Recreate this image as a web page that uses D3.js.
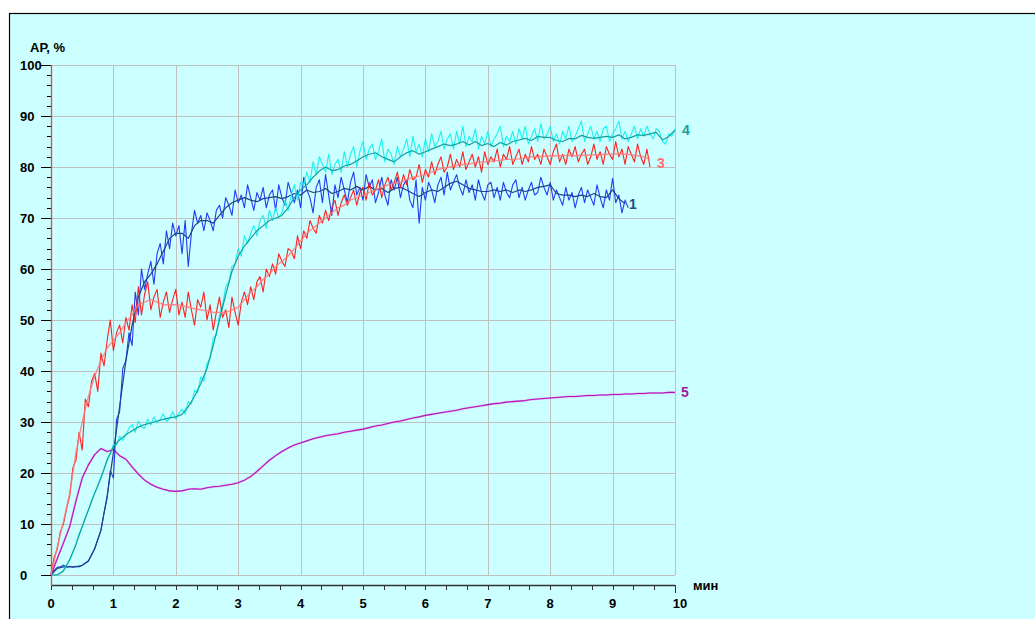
<!DOCTYPE html>
<html>
<head>
<meta charset="utf-8">
<script src="https://cdn.jsdelivr.net/npm/d3@7"></script>
<style>
  html, body { margin: 0; padding: 0; background: #ffffff; }
  svg { display: block; }
  text { font-family: "Liberation Sans", Arial, sans-serif; font-weight: bold; }
</style>
</head>
<body>
<svg id="chart" width="1035" height="619"></svg>
<script>
// Aggregation curves: АР, % versus time (min)
const xTicks = [0, 1, 2, 3, 4, 5, 6, 7, 8, 9, 10];
const yTicks = [0, 10, 20, 30, 40, 50, 60, 70, 80, 90, 100];
const xUnit = "мин";
const yTitle = "АР, %";
const seriesNames = ["1", "3", "4", "5"];

const rawStep = 0.05;     // min between raw samples
const smoothStep = 0.1;   // min between averaged samples

// Curve 1 — raw samples
const s1Raw = [
  0, 0.9, 1.5, 1.6, 1.9, 1.6, 1.7, 1.5, 1.7, 1.6, 1.9, 2.3, 2.7, 3.9, 5.1, 6.9, 8.7, 12.2, 15.1, 20.5,
  19.0, 30.5, 32.0, 40.5, 42.0, 47.5, 45.0, 55.5, 51.0, 60.0, 56.0, 59.0, 61.5, 57.0, 63.0, 65.0, 61.0, 67.5, 64.0, 69.0,
  66.5, 68.5, 63.0, 69.5, 60.5, 67.0, 71.5, 69.0, 70.5, 67.5, 71.0, 69.5, 67.5, 71.5, 72.5, 70.0, 74.0, 72.5, 70.5, 75.5,
  73.0, 74.5, 72.0, 76.5, 74.0, 71.5, 75.0, 73.5, 76.0, 72.0, 74.5, 75.5, 71.5, 76.5, 74.0, 72.5, 77.0, 75.0, 73.0, 75.5,
  72.0, 78.0, 75.5, 74.0, 71.0, 76.0, 77.5, 73.0, 78.5, 74.5, 70.5, 76.5, 74.0, 78.0, 75.5, 73.0, 77.0, 79.0, 74.5, 76.0,
  73.5, 78.5, 76.0, 77.5, 73.0, 75.0, 78.0, 74.5, 72.5, 77.5, 75.5, 78.0, 74.0, 76.5, 77.5, 73.5, 72.0, 77.5, 69.0, 76.0,
  73.5, 77.0, 75.5, 73.0, 76.5, 78.0, 74.5, 79.0, 75.5, 77.0, 78.5, 76.0, 74.5, 77.5, 75.0, 76.5, 73.5, 77.5, 75.0, 73.5,
  76.5, 77.0, 74.0, 76.0, 73.5, 77.0, 75.0, 74.0, 76.5, 77.5, 74.0, 76.0, 73.5, 75.5, 77.0, 74.5, 75.0, 78.0, 76.0, 74.5,
  77.0, 73.5, 75.5, 74.0, 72.5, 76.0, 73.5, 75.0, 72.0, 74.5, 76.0, 73.0, 75.5, 74.0, 72.5, 76.5, 74.0, 72.0, 75.5, 73.5,
  77.8, 73.0, 74.5, 71.0, 73.5, 72.0
];
// Curve 1 — averaged
const s1Smooth = [
  0, 1.3, 1.6, 1.6, 1.6, 1.9, 2.8, 5.2, 8.8, 15.5, 24, 33, 42, 49, 54.5, 57.5, 59, 61, 63.5, 66,
  67, 67, 66, 68.5, 69.5, 69.5, 69, 70.5, 72, 73, 73.5, 74, 73.5, 73.2, 73.8, 74, 74.2, 73.8, 74.2, 74.8,
  74.5, 75.5, 75, 75.2, 75.8, 74.8, 75.2, 75.8, 75.5, 76.2, 75.5, 76.2, 75.5, 75.8, 75, 75.8, 76, 75.5, 74.8, 74.2,
  75, 75.5, 75.2, 76, 76.8, 77.2, 76.5, 75.8, 75.5, 75.2, 75.2, 75.5, 75.2, 75.5, 75, 75.5, 75.2, 75.5, 76, 76.2,
  76.5, 74.8, 74.5, 74.5, 74.2, 74.5, 74.2, 74.8, 74.2, 74, 75.5, 73.8, 72.8
];

// Curve 3 — raw samples
const s3Raw = [
  0, 3.5, 5.0, 8.5, 10.0, 13.0, 15.5, 21.0, 22.5, 28.0, 24.5, 34.5, 33.0, 38.0, 39.5, 36.0, 43.5, 41.0, 46.0, 50.0,
  44.0, 47.5, 49.0, 45.5, 50.5, 48.0, 53.0, 49.5, 56.5, 51.0, 55.0, 57.5, 52.0, 54.5, 56.0, 50.5, 53.5, 55.5, 51.5, 54.0,
  56.0, 51.0, 53.5, 50.5, 55.5, 52.0, 49.0, 54.0, 52.5, 55.5, 50.0, 53.0, 48.0, 51.5, 54.5, 50.5, 52.0, 48.5, 54.5, 51.5,
  49.0, 53.5, 55.5, 53.0, 56.5, 54.0, 57.5, 58.5, 55.5, 60.0, 58.5, 61.0, 59.0, 63.0, 61.5, 60.5, 64.0, 63.5, 62.0, 66.5,
  64.0, 67.5, 66.0, 69.5, 68.0, 67.0, 70.5, 69.0, 71.5, 69.5, 72.0, 73.5, 70.5, 73.0, 74.5, 72.5, 74.0, 75.5, 72.5, 75.0,
  76.0, 73.5, 77.0, 74.5, 75.5, 77.5, 74.0, 76.5, 78.0, 75.5, 77.0, 79.0, 76.0, 78.5, 76.5, 79.5, 77.5, 78.0, 80.5, 77.0,
  79.5, 78.0, 81.0, 78.5, 80.5, 82.0, 79.0, 80.0, 82.5, 79.5, 81.5, 80.0, 83.0, 79.5, 81.0, 82.5, 80.0, 82.0, 79.0, 83.0,
  80.5, 82.0, 81.0, 83.5, 80.0, 82.5, 81.5, 84.0, 80.5, 82.0, 83.5, 80.5, 82.5, 81.0, 84.0, 81.5, 82.5, 80.5, 83.5, 82.0,
  80.5, 83.0, 84.5, 81.0, 82.5, 80.5, 83.5, 82.0, 84.0, 81.0, 82.5, 83.5, 80.5, 82.0, 84.5, 81.5, 83.0, 80.5, 84.0, 82.5,
  81.5, 85.0, 82.0, 83.5, 80.5, 84.0, 82.5, 81.0, 84.5, 82.0, 80.5, 83.5, 80.0
];
// Curve 3 — averaged
const s3Smooth = [
  0, 5.5, 10.5, 16, 24, 30, 35, 39, 42, 44.5, 46, 47.5, 49.5, 51, 53, 53.5, 54, 53.5, 53, 53,
  53, 52.8, 52.5, 52.2, 52, 51.8, 51.5, 51.5, 51.5, 52, 52.5, 54, 55.5, 56.5, 58, 59, 60.5, 61.5, 62.5, 64,
  65.5, 67, 68, 69, 70, 71, 72, 72.5, 73.5, 74, 74.5, 75, 75.5, 76, 76.5, 76.8, 77, 77.5, 78, 78.2,
  78.5, 79, 79.5, 79.8, 80, 80.3, 80.5, 80.6, 80.8, 81, 81, 81.2, 81.3, 81.5, 81.5, 81.6, 81.8, 82, 82, 82.1,
  82.2, 82.2, 82.2, 82.3, 82.2, 82.3, 82.3, 82.4, 82.4, 82.5, 82.5, 82.6, 82.5, 82.4, 82.2, 82, 81.5
];

// Curve 4 — raw samples
const s4Raw = [
  0, 0, 0.1, 0.3, 1.0, 2.0, 3.1, 4.4, 6.0, 8.1, 9.4, 11.2, 12.7, 14.6, 16.2, 17.4, 19.3, 20.7, 22.8, 23.8,
  25.6, 25.5, 27.2, 26.4, 27.5, 28.8, 29.5, 28.0, 30.2, 29.0, 28.8, 30.6, 29.4, 31.0, 29.8, 30.5, 31.6, 30.1, 30.6, 32.0,
  30.6, 31.8, 32.5, 31.6, 34.0, 33.5, 36.2, 35.8, 38.8, 38.0, 41.5, 42.5, 46.5, 47.0, 51.0, 53.0, 56.5, 57.5, 60.5, 61.0,
  64.0, 62.5, 66.5, 65.0, 67.0, 68.5, 66.5, 69.5, 70.5, 68.0, 71.5, 69.5, 72.0, 70.0, 71.0, 73.5, 71.5, 74.5, 76.5, 73.5,
  77.0, 76.5, 79.0, 77.0, 81.0, 78.5, 82.0, 80.5, 79.0, 82.5, 78.5, 80.5, 81.5, 79.0, 83.0, 80.0, 82.5, 84.0, 80.0, 83.0,
  85.0, 81.5, 83.5, 84.5, 81.5, 83.0, 85.5, 81.0, 83.5, 82.5, 80.5, 84.0, 82.0, 83.5, 85.5, 82.0, 86.0, 83.0, 84.5, 82.0,
  85.5, 83.0, 86.5, 84.0, 85.0, 87.0, 83.5, 85.5, 86.5, 83.5, 87.0, 84.5, 88.0, 84.0, 86.0, 85.0, 87.5, 83.5, 86.0, 84.5,
  87.0, 84.0, 85.5, 86.5, 88.0, 84.0, 86.0, 85.0, 87.0, 84.5, 87.5, 85.5, 88.0, 84.5, 86.0, 87.5, 85.0, 88.5, 85.5, 86.5,
  88.0, 85.0, 86.5, 84.5, 87.0, 85.5, 88.0, 85.0, 86.0, 87.5, 89.0, 85.0, 86.5, 88.0, 85.5, 87.0, 85.0, 87.5, 88.0, 85.0,
  86.5, 87.5, 89.0, 85.5, 87.0, 85.0, 86.5, 88.0, 85.5, 87.5, 86.0, 88.0, 86.5, 85.5, 87.5, 87.0, 85.0, 84.5, 86.5, 86.0,
  87.5
];
// Curve 4 — averaged
const s4Smooth = [
  0, 0, 0.8, 3, 6, 9.5, 12.8, 16, 19, 22.5, 25.2, 26.5, 27.5, 28.3, 29, 29.5, 29.8, 30.2, 30.5, 30.8,
  31, 31.5, 33, 35, 37.5, 40.5, 45, 50, 55, 59.5, 62.5, 64.5, 66, 67.5, 68.5, 69.5, 70, 70.5, 72, 74,
  75.5, 76.5, 78, 79.2, 80, 79.3, 79.5, 80.2, 80.5, 81.2, 82, 82.5, 82.8, 82, 81.5, 81, 82, 82.8, 83.2, 82.5,
  83, 83.5, 84, 84.5, 84.2, 84.5, 85, 84.3, 85, 84.2, 84.6, 84, 84.8, 84.3, 85, 85.3, 85.6, 85.2, 86, 85.8,
  85.8, 85.2, 85, 85.6, 85.5, 86.2, 85.8, 85.6, 85.8, 86, 85.8, 86.3, 85.5, 85.8, 86.3, 86.2, 86.5, 86.8, 85.3, 86,
  87.2
];

// Curve 5 — averaged only (very little scatter)
const s5Smooth = [
  0, 3.2, 6.3, 9.5, 14.5, 19, 21.6, 23.6, 24.8, 24.2, 24.6, 23.4, 22.7, 21.2, 19.8, 18.6, 17.8, 17.2, 16.8, 16.5,
  16.4, 16.5, 16.8, 16.9, 16.8, 17.1, 17.3, 17.4, 17.6, 17.8, 18.1, 18.6, 19.3, 20.3, 21.4, 22.5, 23.4, 24.2, 24.9, 25.5,
  25.9, 26.3, 26.7, 27.0, 27.3, 27.5, 27.7, 28.0, 28.2, 28.4, 28.6, 28.9, 29.2, 29.4, 29.7, 30.0, 30.2, 30.5, 30.8, 31.0,
  31.3, 31.5, 31.7, 31.9, 32.1, 32.3, 32.6, 32.8, 33.0, 33.2, 33.4, 33.6, 33.7, 33.9, 34.0, 34.1, 34.2, 34.4, 34.5, 34.6,
  34.7, 34.8, 34.9, 35.0, 35.0, 35.1, 35.2, 35.2, 35.3, 35.3, 35.4, 35.4, 35.5, 35.5, 35.6, 35.6, 35.7, 35.7, 35.7, 35.8,
  35.8
];

const W = 1035, H = 619;
const svg = d3.select("#chart");

// panel background and frame
svg.append("rect").attr("x", 0).attr("y", 0).attr("width", W).attr("height", H).attr("fill", "#ffffff");
svg.append("rect").attr("x", 9.5).attr("y", 13.5).attr("width", W).attr("height", H)
  .attr("fill", "#ccffff").attr("stroke", "#000000").attr("stroke-width", 1.2);

const x = d3.scaleLinear().domain([0, 10]).range([51, 675]);
const y = d3.scaleLinear().domain([0, 100]).range([575, 65]);
const px = v => Math.round(v) + 0.5;

// grid
const grid = svg.append("g").attr("stroke", "#c0c0c0").attr("stroke-width", 1).attr("shape-rendering", "crispEdges");
grid.selectAll("line.h").data(yTicks).join("line")
  .attr("x1", x(0)).attr("x2", x(10)).attr("y1", d => px(y(d))).attr("y2", d => px(y(d)));
grid.selectAll("line.v").data(xTicks.slice(1)).join("line")
  .attr("x1", d => px(x(d))).attr("x2", d => px(x(d))).attr("y1", y(100)).attr("y2", y(0));

// y axis: ticks and labels
const yAxisX = 51;
const yMinor = d3.range(0, 101, 2).filter(v => v % 10 !== 0);
const yAx = svg.append("g").attr("stroke", "#000").attr("shape-rendering", "crispEdges");
yAx.selectAll("line.maj").data(yTicks).join("line")
  .attr("x1", yAxisX - 10).attr("x2", yAxisX).attr("y1", d => px(y(d))).attr("y2", d => px(y(d)));
yAx.selectAll("line.min").data(yMinor).join("line")
  .attr("x1", yAxisX - 4).attr("x2", yAxisX).attr("y1", d => px(y(d))).attr("y2", d => px(y(d)));
svg.append("g").selectAll("text").data(yTicks).join("text")
  .attr("x", 20).attr("y", d => y(d)).attr("dy", "0.36em")
  .attr("font-size", 13).attr("fill", "#000").text(d => d);

// x axis
const xAxisY = 585;
svg.append("line").attr("x1", x(0)).attr("x2", x(10)).attr("y1", xAxisY + 0.5).attr("y2", xAxisY + 0.5)
  .attr("stroke", "#333").attr("stroke-width", 1.3);
const xMinor = d3.range(0, 30).map(i => i / 3).filter((v, i) => i % 3 !== 0);
const xAx = svg.append("g").attr("stroke", "#333").attr("shape-rendering", "crispEdges");
xAx.selectAll("line.maj").data(xTicks).join("line")
  .attr("x1", d => px(x(d))).attr("x2", d => px(x(d))).attr("y1", xAxisY).attr("y2", d => xAxisY + (d === 10 ? 8 : 5));
xAx.selectAll("line.min").data(xMinor).join("line")
  .attr("x1", d => px(x(d))).attr("x2", d => px(x(d))).attr("y1", xAxisY).attr("y2", xAxisY + 5);
svg.append("g").selectAll("text").data(xTicks).join("text")
  .attr("x", d => x(d) + (d === 10 ? 5 : 0)).attr("y", 608).attr("text-anchor", "middle")
  .attr("font-size", 13).attr("fill", "#000").text(d => d);

// red value axis line
svg.append("line").attr("x1", yAxisX + 0.5).attr("x2", yAxisX + 0.5).attr("y1", y(100)).attr("y2", xAxisY + 1)
  .attr("stroke", "#e84848").attr("stroke-width", 1.3);

// titles
svg.append("text").attr("x", 30).attr("y", 52).attr("font-size", 13).attr("fill", "#000").text(yTitle);
svg.append("text").attr("x", 693).attr("y", 590).attr("font-size", 13).attr("fill", "#000").text(xUnit);

// curves
const toPts = (arr, step) => arr.map((v, i) => [i * step, v]);
const line = d3.line().x(d => x(d[0])).y(d => y(d[1]));
const curves = svg.append("g").attr("fill", "none").attr("stroke-linejoin", "round");

function draw(arr, step, color, width, opacity) {
  curves.append("path").datum(toPts(arr, step))
    .attr("d", line).attr("stroke", color).attr("stroke-width", width).attr("stroke-opacity", opacity);
}

draw(s5Smooth, smoothStep, "#e050e0", 2.0, 0.45);
draw(s5Smooth, smoothStep, "#b812b8", 1.1, 1);
draw(s1Raw, rawStep, "#1028f0", 1.1, 0.9);
draw(s1Smooth, smoothStep, "#1e4488", 1.2, 1);
draw(s4Raw, rawStep, "#12f0f0", 1.1, 0.95);
draw(s4Smooth, smoothStep, "#14a0a0", 1.2, 1);
draw(s3Raw, rawStep, "#ff1616", 1.1, 0.95);
draw(s3Smooth, smoothStep, "#ff7a7a", 1.4, 0.85);

// end labels
const ends = [
  { name: seriesNames[0], t: (s1Smooth.length - 1) * smoothStep, v: s1Smooth[s1Smooth.length - 1], color: "#1b4e86", dx: 4 },
  { name: seriesNames[1], t: (s3Smooth.length - 1) * smoothStep, v: s3Smooth[s3Smooth.length - 1], color: "#ff6e6e", dx: 7 },
  { name: seriesNames[2], t: (s4Smooth.length - 1) * smoothStep, v: s4Smooth[s4Smooth.length - 1], color: "#1aa0a0", dx: 7 },
  { name: seriesNames[3], t: (s5Smooth.length - 1) * smoothStep, v: s5Smooth[s5Smooth.length - 1], color: "#a020a0", dx: 6 }
];
svg.append("g").selectAll("text").data(ends).join("text")
  .attr("x", d => x(d.t) + d.dx).attr("y", d => y(d.v) + (d.name === "3" ? 4 : 0)).attr("dy", "0.36em")
  .attr("font-size", 14).attr("fill", d => d.color).text(d => d.name);
</script>
</body>
</html>
